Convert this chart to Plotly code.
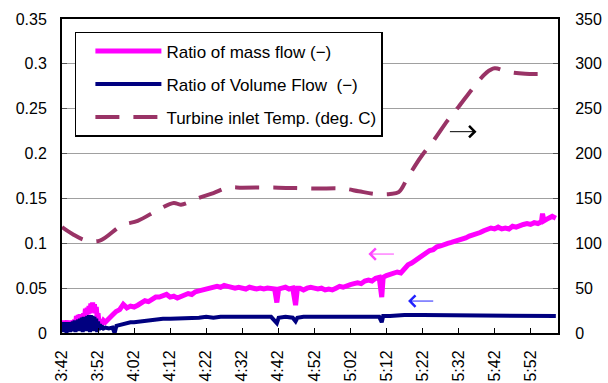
import datetime as dt
import plotly.graph_objects as go

# ---- data (minutes after 3:42) ----
mass_t = [0, 0.25, 0.5, 0.75, 1, 1.25, 1.5, 1.75, 2, 2.25, 2.5, 2.75, 3, 3.25, 3.5, 3.75, 4, 4.25, 4.5, 4.75,
          5, 5.25, 5.5, 5.75, 6, 6.25, 6.5, 6.75, 7, 7.25, 7.5, 7.75, 8, 8.25, 8.5, 8.75, 9, 9.25, 9.5, 9.75,
          10, 10.25, 10.5, 11, 11.5, 12,
          13, 14, 15, 16, 17, 18, 19, 20, 21, 22, 23, 24, 25, 26, 27, 28, 29, 30, 31, 32, 33, 34, 35, 36, 37,
          38, 39, 40, 41, 42, 43, 44, 45, 46, 47, 48, 49, 50, 51, 52, 53, 54, 55, 56, 57, 58, 59, 59.6, 60.1,
          61, 62, 63, 64, 64.8, 65.3, 66, 67, 68, 69, 70, 71, 72, 73, 74, 75, 76, 77, 78, 79, 80, 81, 82, 83,
          84, 85, 86, 87, 88, 88.7, 89.1, 90, 91, 92, 93, 94, 95, 96, 97, 98, 99, 100, 101, 102, 103, 104, 105,
          106, 107, 108, 109, 110, 111, 112, 113, 114, 115, 116, 117, 118, 119, 120, 121, 122, 123, 124, 125,
          126, 127, 128, 129, 130, 131, 132, 133, 133.3, 133.7, 134, 135, 136, 137]
mass_v = [0.013, 0.006, 0.014, 0.005, 0.012, 0.007, 0.014, 0.006, 0.013, 0.005, 0.012, 0.007, 0.014, 0.006,
          0.015, 0.009, 0.019, 0.010, 0.020, 0.012,
          0.021, 0.011, 0.020, 0.013, 0.022, 0.016, 0.027, 0.020, 0.028, 0.021, 0.030, 0.022, 0.033, 0.024,
          0.034, 0.023, 0.032, 0.022, 0.029, 0.018,
          0.022, 0.012, 0.013, 0.010, 0.014, 0.012,
          0.017, 0.020, 0.024, 0.026, 0.032, 0.028, 0.030, 0.029, 0.031, 0.034, 0.036, 0.035, 0.038, 0.040,
          0.040, 0.042, 0.043, 0.040, 0.041, 0.039, 0.041, 0.042, 0.044, 0.043, 0.046,
          0.047, 0.048, 0.049, 0.050, 0.051, 0.052, 0.051, 0.053, 0.052, 0.051, 0.050, 0.051, 0.050, 0.049,
          0.051, 0.050, 0.049, 0.050, 0.049, 0.050, 0.050, 0.049, 0.034, 0.049,
          0.050, 0.051, 0.049, 0.050, 0.031, 0.050, 0.050, 0.048, 0.050, 0.051, 0.050, 0.049, 0.050, 0.048,
          0.049, 0.048, 0.050, 0.052, 0.051, 0.053, 0.054, 0.055, 0.056, 0.055,
          0.058, 0.059, 0.058, 0.061, 0.062, 0.040, 0.062, 0.064, 0.065, 0.066, 0.068, 0.067, 0.072, 0.076,
          0.078, 0.081, 0.084, 0.087, 0.090, 0.092, 0.093, 0.096, 0.097,
          0.099, 0.100, 0.101, 0.102, 0.103, 0.105, 0.106, 0.108, 0.109, 0.111, 0.112, 0.114, 0.115, 0.117,
          0.116, 0.118, 0.116, 0.117, 0.116, 0.119,
          0.118, 0.120, 0.121, 0.122, 0.121, 0.123, 0.122, 0.124, 0.133, 0.125, 0.126, 0.128, 0.130, 0.128]

vol_t = [0, 0.25, 0.5, 0.75, 1, 1.25, 1.5, 1.75, 2, 2.25, 2.5, 2.75, 3, 3.25, 3.5, 3.75, 4, 4.25, 4.5, 4.75,
         5, 5.25, 5.5, 5.75, 6, 6.25, 6.5, 6.75, 7, 7.25, 7.5, 7.75, 8, 8.25, 8.5, 8.75, 9, 9.25, 9.5, 9.75,
         10, 10.25, 10.5, 10.75, 11, 11.5, 12, 13,
         14, 14.6, 15.1, 16, 17, 18, 19, 20, 22, 24, 26, 28, 30, 32, 34, 36, 38, 40, 42, 44, 46, 48, 50, 52,
         54, 56, 58, 59.6, 60.1, 62, 64, 64.8, 65.3, 67, 70, 73, 76, 80, 84, 88, 88.7, 89.1, 91, 95, 100, 105,
         110, 115, 120, 125, 130, 135, 137]
vol_v = [0.010, 0.001, 0.012, 0.003, 0.011, 0.000, 0.012, 0.004, 0.010, 0.001, 0.012, 0.002, 0.013, 0.003,
         0.014, 0.001, 0.013, 0.004, 0.015, 0.002,
         0.016, 0.003, 0.017, 0.001, 0.018, 0.004, 0.017, 0.002, 0.019, 0.003, 0.020, 0.001, 0.020, 0.004,
         0.019, 0.002, 0.018, 0.003, 0.016, 0.001,
         0.013, 0.003, 0.010, 0.004, 0.008, 0.005, 0.006, 0.005,
         0.006, 0.000, 0.008, 0.009, 0.010, 0.011, 0.012, 0.012, 0.013, 0.015, 0.015, 0.016, 0.016, 0.016,
         0.016, 0.017, 0.017, 0.018, 0.017, 0.018, 0.018, 0.018, 0.017, 0.018,
         0.018, 0.017, 0.018, 0.011, 0.017, 0.018, 0.017, 0.013, 0.017, 0.018, 0.018, 0.017, 0.018, 0.018,
         0.018, 0.018, 0.012, 0.019, 0.019, 0.020, 0.020, 0.020,
         0.020, 0.019, 0.019, 0.019, 0.019, 0.019, 0.019]

temp_t = [0, 3, 6.4, 10.5, 16.6, 21, 27, 31, 33, 37.6, 42, 46, 50, 60, 70, 78, 82.3, 87, 91, 93.4, 96, 99.7,
          103, 107, 110, 114.6, 117.7, 120, 123.8, 128.5, 135.4]
temp_v = [118, 110, 103.5, 103, 120, 125, 138, 145, 143, 150, 156, 162, 162, 162, 161, 161, 158, 155, 155, 157,
          174, 197, 214, 237, 252, 276, 290, 295, 291, 289, 289]

series_names = ["Ratio of mass flow (\u2212)", "Ratio of Volume Flow\u00a0\u00a0(\u2212)",
                "Turbine inlet Temp. (deg. C)"]
x_tick_labels = ["3:42", "3:52", "4:02", "4:12", "4:22", "4:32", "4:42", "4:52", "5:02", "5:12", "5:22", "5:32",
                 "5:42", "5:52"]

base = dt.datetime(2000, 1, 1, 3, 42)


def to_time(mins):
    return [base + dt.timedelta(minutes=m) for m in mins]


FONT = "Liberation Sans"
fig = go.Figure()
fig.add_trace(go.Scatter(x=to_time(mass_t), y=mass_v, mode="lines", name=series_names[0],
                         line=dict(color="#FF00FF", width=5), legendgroup="a"))
fig.add_trace(go.Scatter(x=to_time(vol_t), y=vol_v, mode="lines", name=series_names[1],
                         line=dict(color="#000080", width=4), legendgroup="b"))
fig.add_trace(go.Scatter(x=to_time(temp_t), y=temp_v, mode="lines", name=series_names[2], yaxis="y2",
                         line=dict(color="#993366", width=4, dash="24px,14px", shape="spline"),
                         legendgroup="c"))

tickvals = [base + dt.timedelta(minutes=10 * i) for i in range(len(x_tick_labels))]

fig.update_layout(
    width=608, height=383,
    margin=dict(l=62, r=50, t=19, b=50, autoexpand=False),
    paper_bgcolor="white", plot_bgcolor="white",
    font=dict(family=FONT, size=16, color="black"),
    showlegend=True,
    legend=dict(x=0.026, y=0.959, xanchor="left", yanchor="top", bgcolor="white",
                bordercolor="black", borderwidth=1.5, traceorder="grouped", tracegroupgap=8,
                font=dict(family=FONT, size=17), itemwidth=66, indentation=14),
    xaxis=dict(type="date", range=[base, base + dt.timedelta(minutes=137.6)],
               tickvals=tickvals, ticktext=x_tick_labels, tickangle=-90, automargin=False,
               ticks="inside", ticklen=5, tickcolor="black", tickwidth=1,
               showline=True, linecolor="black", linewidth=2, mirror=True,
               showgrid=False, zeroline=False, ticklabelstandoff=9),
    yaxis=dict(range=[0, 0.35], dtick=0.05, ticks="inside", ticklen=5, tickcolor="#555", automargin=False,
               showline=True, linecolor="black", linewidth=2, showgrid=True, gridcolor="#A0A0A0",
               gridwidth=1, zeroline=False, ticklabelstandoff=10),
    yaxis2=dict(range=[0, 350], dtick=50, overlaying="y", side="right", ticks="inside", ticklen=5,
                tickcolor="#555", showline=True, linecolor="black", linewidth=2, showgrid=False,
                automargin=False, zeroline=False, ticklabelstandoff=12),
)

arrows = [
    dict(t_head=85.0, t_tail=92.5, y=0.088, color="#FF44FF"),
    dict(t_head=96.0, t_tail=103.4, y=0.0356, color="#2222FF"),
    dict(t_head=115.0, t_tail=107.2, y=0.2244, color="black"),
]
for a in arrows:
    fig.add_annotation(x=base + dt.timedelta(minutes=a["t_head"]), y=a["y"], xref="x", yref="y",
                       ax=base + dt.timedelta(minutes=a["t_tail"]), ay=a["y"], axref="x", ayref="y",
                       showarrow=True, arrowhead=4, arrowsize=2.2, arrowwidth=1, arrowcolor=a["color"],
                       text="")

fig.write_html("out.html")
